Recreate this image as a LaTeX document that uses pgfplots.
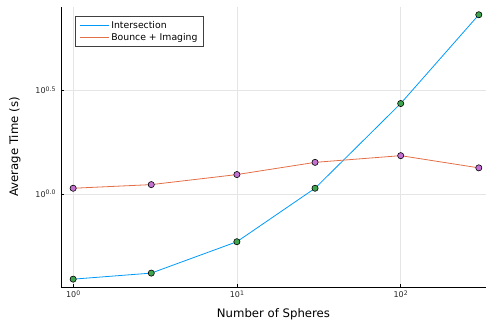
\documentclass[border=0pt]{standalone}
\usepackage{fontspec}
\setmainfont{DejaVu Sans}
\usepackage{pgfplots}
\pgfplotsset{compat=1.18}
\definecolor{jblue}{RGB}{0,154,250}
\definecolor{jorange}{RGB}{227,111,71}
\definecolor{jgreen}{RGB}{62,164,78}
\definecolor{jpurple}{RGB}{195,113,210}
\newcommand\tp[2]{#1\raisebox{0.6ex}{\fontsize{6.2}{7}\selectfont #2}}
\begin{document}
\begin{tikzpicture}[x=1pt,y=1pt]
\useasboundingbox (0,0) rectangle (486,326);
\begin{axis}[
  at={(61pt,39pt)}, anchor=south west,
  scale only axis, width=425pt, height=280pt,
  xmode=log, ymode=log,
  xmin=0.843, xmax=332, ymin=0.3556, ymax=7.98,
  axis lines*=left, axis line style={-, black, line width=0.8pt},
  xtick={1,10,100}, xticklabels={\tp{10}{0},\tp{10}{1},\tp{10}{2}},
  ytick={1,3.16228}, yticklabels={\tp{10}{0.0},\tp{10}{0.5}},
  xminorticks=false, yminorticks=false,
  tick align=inside, major tick length=3pt,
  tick style={black, line width=0.5pt},
  ticklabel style={font=\fontsize{8}{9}\selectfont, text=black!85},
  yticklabel style={xshift=-2pt},
  grid=major, major grid style={black!10, line width=0.5pt},
  xlabel={Number of Spheres}, ylabel={Average Time (s)},
  label style={font=\fontsize{11.7}{13}\selectfont},
  xlabel style={yshift=-4pt},
  ylabel style={yshift=8pt},
  legend style={at={(0.033,0.967)}, anchor=north west, draw=black!75, line width=0.8pt,
    font=\fontsize{9.3}{10}\selectfont, inner xsep=4pt, inner ysep=2.5pt, row sep=-0.5pt, cells={anchor=west}},
  legend image code/.code={\draw[#1, line width=0.9pt] (-1pt,0pt) -- (28pt,0pt);},
]
\addplot[jblue, line width=0.8pt, mark=*, mark size=3.1pt,
  mark options={fill=jgreen, draw=black, line width=0.6pt}]
  coordinates {(1,0.388) (3,0.415) (10,0.588) (30,1.065) (100,2.73) (300,7.32)};
\addlegendentry{Intersection}
\addplot[jorange, line width=0.8pt, mark=*, mark size=3.1pt,
  mark options={fill=jpurple, draw=black, line width=0.6pt}]
  coordinates {(1,1.065) (3,1.109) (10,1.24) (30,1.42) (100,1.53) (300,1.336)};
\addlegendentry{Bounce + Imaging}
\end{axis}
\end{tikzpicture}
\end{document}
